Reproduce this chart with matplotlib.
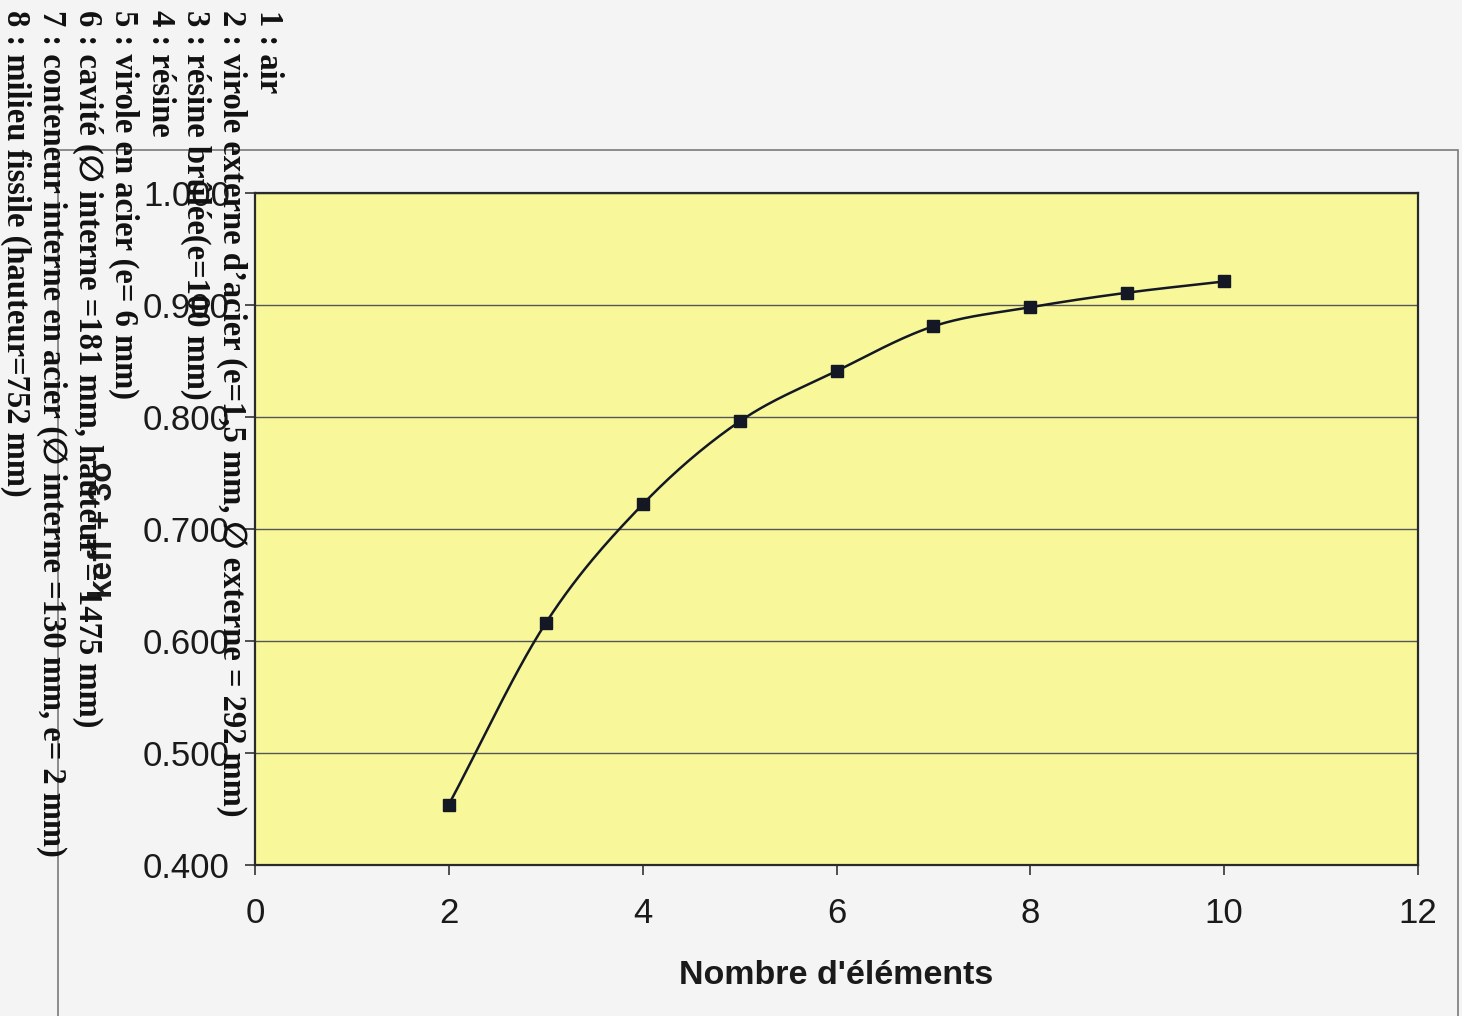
import numpy as np
import matplotlib
matplotlib.use("Agg")
import matplotlib.pyplot as plt
from matplotlib.patches import Rectangle
from matplotlib.font_manager import FontProperties

# keff + 3 sigma versus number of elements
n_elements = [2, 3, 4, 5, 6, 7, 8, 9, 10]
keff = [0.454, 0.616, 0.722, 0.796, 0.841, 0.881, 0.898, 0.911, 0.921]

x_ticks = [0, 2, 4, 6, 8, 10, 12]
y_ticks = [0.4, 0.5, 0.6, 0.7, 0.8, 0.9, 1.0]

media = [
    "1 : air",
    "2 : virole externe d\u2019acier (e=1,5 mm, \u2205 externe = 292 mm)",
    "3 : résine brûlée(e=100 mm)",
    "4 : résine",
    "5 : virole en acier (e= 6 mm)",
    "6 : cavité (\u2205 interne =181 mm, hauteur = 1475 mm)",
    "7 : conteneur interne en acier (\u2205 interne =130 mm, e= 2 mm)",
    "8 : milieu fissile (hauteur=752 mm)",
]


def smooth_curve(x, y, steps=30):
    # Catmull-Rom spline through the points, like a spreadsheet "smoothed line"
    x = np.asarray(x, float)
    y = np.asarray(y, float)
    px = np.concatenate([[2 * x[0] - x[1]], x, [2 * x[-1] - x[-2]]])
    py = np.concatenate([[2 * y[0] - y[1]], y, [2 * y[-1] - y[-2]]])
    t = np.linspace(0, 1, steps)[:, None]
    xs, ys = [], []
    for i in range(1, len(px) - 2):
        for p, out in ((px, xs), (py, ys)):
            p0, p1, p2, p3 = p[i - 1], p[i], p[i + 1], p[i + 2]
            seg = 0.5 * ((2 * p1) + (-p0 + p2) * t + (2 * p0 - 5 * p1 + 4 * p2 - p3) * t ** 2
                         + (-p0 + 3 * p1 - 3 * p2 + p3) * t ** 3)
            out.append(seg.ravel())
    return np.concatenate(xs), np.concatenate(ys)


W, H = 1462, 1016
fig = plt.figure(figsize=(W / 100, H / 100), dpi=100, facecolor="#f4f4f4")
ax = fig.add_axes([255 / W, 1 - 865 / H, (1418 - 255) / W, (865 - 193) / H])
ax.set_facecolor("#f8f89b")

# chart-area frame
fig.patches.append(Rectangle((58 / W, -0.05), 1400 / W, (H - 150) / H + 0.05,
                             transform=fig.transFigure, fill=False,
                             edgecolor="#7a7a7a", lw=1.2))

sx, sy = smooth_curve(n_elements, keff)
ax.plot(sx, sy, color="#141824", lw=1.8, zorder=3)
ax.plot(n_elements, keff, ls="none", marker="s", ms=8.5, color="#141824", zorder=4)

ax.set_xlim(0, 12)
ax.set_ylim(0.4, 1.0)
ax.set_xticks(x_ticks)
ax.set_yticks(y_ticks)
ax.set_yticklabels([f"{v:.3f}" for v in y_ticks])
ax.yaxis.grid(True, color="#555555", lw=1.0)
ax.set_axisbelow(True)
for s in ax.spines.values():
    s.set_color("#2a2a2a")
    s.set_linewidth(1.6)

ax.tick_params(axis="both", direction="out", length=7, width=1.2, color="#333333")
ax.tick_params(axis="y", pad=11)
ax.tick_params(axis="x", pad=16)
tick_fp = FontProperties(family="Liberation Sans", size=25)
for lbl in ax.get_xticklabels() + ax.get_yticklabels():
    lbl.set_fontproperties(tick_fp)
    lbl.set_color("#1a1a1a")

ax.set_xlabel("Nombre d'éléments", family="Liberation Sans", weight="bold",
              size=24.5, color="#1a1a1a", labelpad=22)
ax.set_ylabel("keff + 3σ", family=["Liberation Sans", "DejaVu Sans"], weight="bold",
              size=24, color="#1a1a1a", va="center")
ax.yaxis.set_label_coords((103 - 255) / (1418 - 255), 0.5)

# list of media, written sideways down the left edge
for i, line in enumerate(media):
    fig.text((268 - i * 36) / W, 1 - 10 / H, line, rotation=-90,
             ha="center", va="top", family=["Liberation Serif", "DejaVu Sans"],
             weight="bold", size=23.5, color="#111111")

fig.savefig("out.png", dpi=100, facecolor=fig.get_facecolor())
